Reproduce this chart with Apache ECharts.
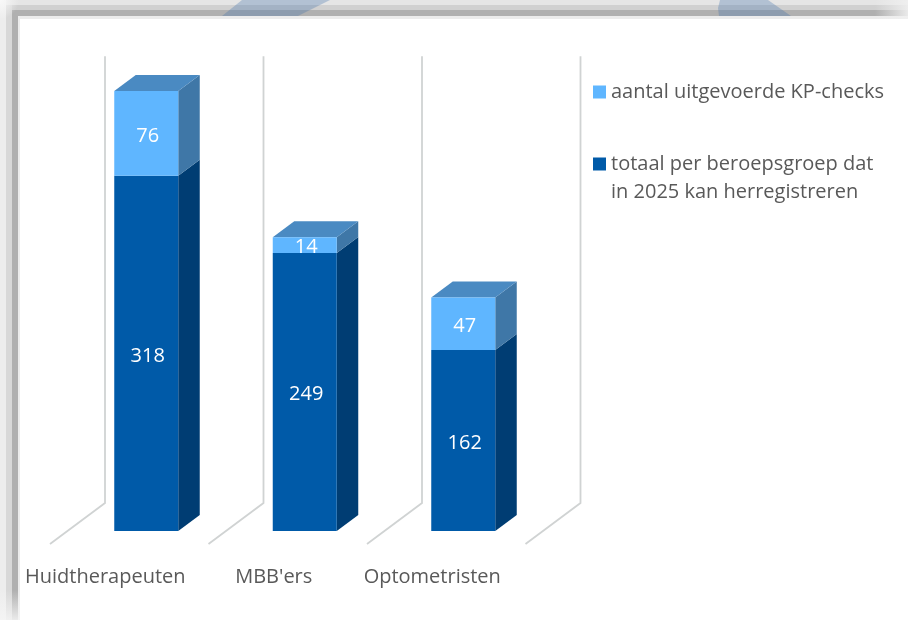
<!DOCTYPE html>
<html>
<head>
<meta charset="utf-8">
<style>html,body{margin:0;padding:0;background:#fff}#c{width:908px;height:620px}</style>
<script src="https://cdn.jsdelivr.net/npm/echarts@6/dist/echarts.min.js"></script>
</head>
<body>
<div id="c"></div>
<script>
const categories = ["Huidtherapeuten", "MBB'ers", "Optometristen"];
const totaal = [318, 249, 162];
const checks = [76, 14, 47];
const nameTotaal = "totaal per beroepsgroep dat in 2025 kan herregistreren";
const nameChecks = "aantal uitgevoerde KP-checks";
const FONT = '"Open Sans", sans-serif';
const DX = 21.5, DY = 16;
const BAR_W = 64;

const chart = echarts.init(document.getElementById('c'), null, {renderer: 'canvas'});

function wallItem(params, api) {
  const i = api.value(0);
  const band = api.size([1, 0])[0];
  const p0 = api.coord([i, 0]);
  const pTop = api.coord([i, 400]);
  const children = [];
  const xs = [p0[0] - band / 2];
  if (i === categories.length - 1) xs.push(p0[0] + band / 2);
  xs.forEach(function (x) {
    const style = {stroke: '#D0D3D3', lineWidth: 1.8, fill: 'none'};
    children.push({type: 'polyline', shape: {points: [
      [x - 17, p0[1] + 13], [x + 38, p0[1] - 28], [x + 38, pTop[1] - 28]
    ]}, style: style});
  });
  return {type: 'group', children: children};
}

function depthItem(side, top) {
  return function (params, api) {
    const i = api.value(0);
    const a = api.coord([i, api.value(1)]);
    const b = api.coord([i, api.value(2)]);
    const r = a[0] + BAR_W / 2;
    const l = a[0] - BAR_W / 2;
    const kids = [{type: 'polygon', shape: {points: [
      [r, a[1]], [r + DX, a[1] - DY], [r + DX, b[1] - DY], [r, b[1]]
    ]}, style: {fill: side}}];
    if (top) kids.push({type: 'polygon', shape: {points: [
      [l, b[1]], [l + DX, b[1] - DY], [r + DX, b[1] - DY], [r, b[1]]
    ]}, style: {fill: top}});
    return {type: 'group', children: kids};
  };
}

const barLabel = {show: true, position: 'inside', offset: [1.5, 2.5], color: '#fff', fontFamily: FONT, fontSize: 20};
const axisRich = {color: '#595959', fontFamily: FONT, fontSize: 20};

const option = {
  animation: false,
  backgroundColor: '#fff',
  textStyle: {fontFamily: FONT},
  graphic: [
    {type: 'rect', z: -10, silent: true, shape: {x: 0, y: 0, width: 908, height: 5}, style: {fill: '#E5E5E5'}},
    {type: 'rect', z: -10, silent: true, shape: {x: 6, y: 5, width: 902, height: 5}, style: {fill: '#D0D0D0'}},
    {type: 'rect', z: -10, silent: true, shape: {x: 12, y: 10, width: 896, height: 6}, style: {fill: '#B0B0B0'}},
    {type: 'rect', z: -10, silent: true, shape: {x: 18, y: 16, width: 890, height: 3}, style: {fill: '#ECECEC'}},
    {type: 'rect', z: -10, silent: true, shape: {x: 0, y: 0, width: 6, height: 620}, style: {fill: '#EDEDED'}},
    {type: 'rect', z: -10, silent: true, shape: {x: 6, y: 5, width: 6, height: 615}, style: {fill: '#D8D8D8'}},
    {type: 'rect', z: -10, silent: true, shape: {x: 12, y: 10, width: 6, height: 610}, style: {fill: '#B0B0B0'}},
    {type: 'rect', z: -10, silent: true, shape: {x: 18, y: 16, width: 2, height: 604}, style: {fill: '#ECECEC'}},
    {type: 'rect', z: -9, silent: true, shape: {x: 875, y: 0, width: 33, height: 19},
      style: {fill: {type: 'linear', x: 0, y: 0, x2: 1, y2: 0, colorStops: [
        {offset: 0, color: 'rgba(240,240,240,0)'}, {offset: 1, color: 'rgba(240,240,240,0.9)'}]}}},
    {type: 'rect', z: -9, silent: true, shape: {x: 0, y: 590, width: 20, height: 30},
      style: {fill: {type: 'linear', x: 0, y: 0, x2: 0, y2: 1, colorStops: [
        {offset: 0, color: 'rgba(245,245,245,0)'}, {offset: 1, color: 'rgba(245,245,245,0.85)'}]}}},
    {type: 'rect', z: -9, silent: true, shape: {x: 0, y: 0, width: 20, height: 19},
      style: {fill: {type: 'radial', x: 0, y: 0, r: 1, colorStops: [
        {offset: 0, color: 'rgba(250,250,250,0.9)'}, {offset: 1, color: 'rgba(250,250,250,0)'}]}}},
    {type: 'polygon', z: -8, silent: true, shape: {points: [[242, 0], [330, 0], [298, 16], [222, 16]]},
      style: {fill: 'rgba(60,110,170,0.3)'}},
    {type: 'polygon', z: -8, silent: true, shape: {points: [[720, 0], [768, 0], [791, 16], [719, 16], [718, 8]]},
      style: {fill: 'rgba(60,110,170,0.3)'}}
  ],
  legend: {
    orient: 'vertical',
    left: 593,
    top: 78,
    padding: 0,
    itemWidth: 13,
    itemHeight: 13,
    itemGap: 16,
    icon: 'rect',
    data: [nameChecks, nameTotaal],
    formatter: function (n) {
      return n === nameTotaal ? '\ntotaal per beroepsgroep dat\nin 2025 kan herregistreren' : n;
    },
    textStyle: {color: '#595959', fontFamily: FONT, fontSize: 20, lineHeight: 28},
    selectedMode: false
  },
  grid: {left: 67, width: 475.5, top: 84.3, height: 446.7},
  xAxis: {
    type: 'category',
    data: categories,
    axisLine: {show: false},
    axisTick: {show: false},
    splitLine: {show: false},
    axisLabel: {
      interval: 0,
      margin: 36,
      color: '#595959',
      fontFamily: FONT,
      fontSize: 20,
      formatter: function (v, i) { return (i === 0 ? '{s|' : '{t|') + v + '}'; },
      rich: {
        s: Object.assign({padding: [0, 82, 0, 0]}, axisRich),
        t: Object.assign({padding: [0, 62, 0, 0]}, axisRich)
      }
    }
  },
  yAxis: {type: 'value', min: 0, max: 400, interval: 100, show: false},
  series: [
    {
      type: 'custom', name: 'wanden', silent: true, z: 1, clip: false,
      renderItem: wallItem,
      data: categories.map(function (c, i) { return [i]; }),
      encode: {x: 0, y: -1}
    },
    {
      type: 'custom', name: 'diepte totaal', silent: true, z: 2, clip: false,
      renderItem: depthItem('#003D73', null),
      data: totaal.map(function (v, i) { return [i, 0, v]; }),
      encode: {x: 0, y: [1, 2]}
    },
    {
      type: 'custom', name: 'diepte checks', silent: true, z: 2, clip: false,
      renderItem: depthItem('#3F77A7', '#4A8AC2'),
      data: checks.map(function (v, i) { return [i, totaal[i], totaal[i] + v]; }),
      encode: {x: 0, y: [1, 2]}
    },
    {
      type: 'bar', name: nameTotaal, stack: 'a', barWidth: BAR_W, z: 3,
      data: totaal, itemStyle: {color: '#005AA8'}, label: barLabel
    },
    {
      type: 'bar', name: nameChecks, stack: 'a', barWidth: BAR_W, z: 3,
      data: checks, itemStyle: {color: '#5FB6FF'}, label: barLabel
    }
  ]
};
chart.setOption(option);
</script>
</body>
</html>
